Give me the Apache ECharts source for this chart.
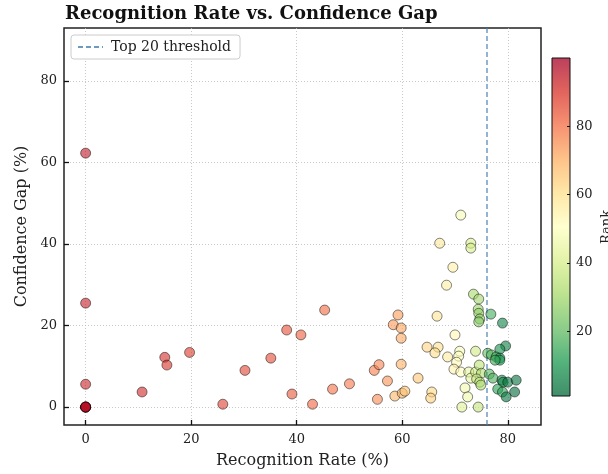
<!DOCTYPE html>
<html>
<head>
<meta charset="utf-8">
<script src="https://cdn.jsdelivr.net/npm/echarts@6/dist/echarts.min.js"></script>
<style>
  html, body { margin: 0; padding: 0; background: #fff; }
  #chart { width: 608px; height: 474px; }
</style>
</head>
<body>
<div id="chart"></div>
<script>
// one entry per model: recognition rate (%), confidence gap (%), rank
var recogRate = [
  0, 0, 0, 0, 0, 0, 0, 0,
  10.7, 15, 15.4, 19.7, 26, 30.2, 35.1, 38.1, 39.1, 40.8, 43, 45.3, 46.8, 50,
  54.7, 55.6, 55.3, 57.2, 58.3, 59.2, 59.8, 59.8, 59.8, 58.6, 60, 60.5, 63,
  64.7, 66.8, 66.2, 68.6, 65.6, 65.4, 66.6, 67.1, 68.4, 69.6, 71.1, 70, 70.9, 70.7,
  70.3, 69.8, 71.1, 72.6, 73, 71.9, 72.4, 71.3,
  73.9, 74.6, 75, 74.1, 74.7, 74.9, 74.4, 73.9, 73, 73, 73.5, 74.5, 74.4, 74.5, 74.7, 74.5,
  76.8, 79, 79.6, 78.5, 76.2, 76.9, 77.8, 78.5, 78.5, 77.6, 76.5, 77.2, 78.9, 79.1, 80,
  81.6, 78.1, 79, 79.7, 81.3
];
var confGap = [
  0, 0, 0, 0, 0, 62.3, 25.5, 5.6,
  3.7, 12.2, 10.3, 13.4, 0.7, 9, 12, 18.9, 3.2, 17.7, 0.7, 23.8, 4.4, 5.7,
  9, 10.4, 1.9, 6.4, 20.2, 22.6, 19.4, 16.9, 10.5, 2.7, 3.4, 3.9, 7.1,
  14.7, 14.7, 13.3, 12.3, 3.7, 2.2, 22.3, 40.2, 29.9, 34.3, 47.1, 17.7, 13.7, 12.5,
  11.0, 9.3, 8.6, 8.6, 7.1, 4.7, 2.5, 0,
  8.6, 10.3, 8.3, 6.9, 6.1, 5.4, 0, 13.7, 40.2, 39, 27.7, 26.5, 24.0, 23.0, 21.6, 20.9,
  22.8, 20.6, 15, 14.2, 13.2, 12.8, 12.3, 12.0, 11.5, 11.5, 8.1, 7.1, 6.6, 6.1, 6.1,
  6.6, 4.4, 3.7, 2.5, 3.7
];
var rank = [
  100, 99, 98, 97, 96, 95, 94, 93,
  92, 91, 90, 89, 88, 87, 86, 85, 84, 83, 82, 81, 80, 79,
  78, 77, 76, 75, 74, 73, 72, 71, 70, 69, 68, 67, 66,
  63, 60, 61, 57, 62, 64, 59, 58, 56, 55, 48, 53, 49, 50,
  52, 54, 51, 45, 44, 47, 46, 42,
  38, 35, 33, 37, 34, 32, 36, 39, 41, 40, 31, 30, 29, 28, 27, 26,
  16, 6, 5, 9, 20, 18, 14, 11, 10, 15, 19, 17, 8, 7, 4,
  2, 12, 13, 3, 1
];

var xTicks = [0, 20, 40, 60, 80];
var yTicks = [0, 20, 40, 60, 80];
var rankTicks = [20, 40, 60, 80];
var RANK_MIN = 1, RANK_MAX = 100;
var THRESHOLD = 76.0;   // recognition rate of the 20th model

// RdYlGn reversed: good rank green, bad rank red
var rdYlGnR = ['#006837', '#1a9850', '#66bd63', '#a6d96a', '#d9ef8b', '#ffffbf',
               '#fee08b', '#fdae61', '#f46d43', '#d73027', '#a50026'];
var ALPHA = 0.75;

var points = recogRate.map(function (x, i) { return [x, confGap[i], rank[i]]; });

// colorbar gradient, bottom (rank 1) to top (rank 100)
var barStops = rdYlGnR.map(function (c, i) {
  return { offset: i / (rdYlGnR.length - 1), color: echarts.color.modifyAlpha(c, ALPHA) };
});

var serif = 'DejaVu Serif';
function tickFmt(list) {
  return function (v) { return list.indexOf(Math.round(v * 1000) / 1000) >= 0 ? String(v) : ''; };
}

var chart = echarts.init(document.getElementById('chart'));
chart.setOption({
  animation: false,
  textStyle: { fontFamily: serif },
  title: {
    text: 'Recognition Rate vs. Confidence Gap',
    left: 60, top: 0,
    textStyle: { fontFamily: serif, fontWeight: 'bold', fontSize: 18, color: '#111' }
  },
  legend: {
    data: ['Top 20 threshold'],
    left: 71, top: 35,
    padding: [5, 9, 5, 6],
    itemWidth: 25, itemHeight: 14,
    backgroundColor: '#fff',
    borderColor: '#ccc', borderWidth: 1, borderRadius: 3,
    itemStyle: { opacity: 0 },
    textStyle: { fontFamily: serif, fontSize: 14, color: '#222', padding: [0, 0, 0, 3] },
    z: 12
  },
  grid: [
    { left: 64, right: 67, top: 28, bottom: 49, outerBoundsMode: 'none',
      show: true, borderColor: '#222', borderWidth: 1.5, z: 5 },
    { left: 552, top: 58, width: 18, height: 338, outerBoundsMode: 'none',
      show: true, borderColor: '#111', borderWidth: 1, backgroundColor: 'transparent', z: 10 }
  ],
  xAxis: [
    {
      type: 'value', gridIndex: 0, min: -4.1, max: 86.3, splitNumber: 5,
      name: 'Recognition Rate (%)', nameLocation: 'middle', nameGap: 28,
      nameTextStyle: { fontFamily: serif, fontSize: 16, color: '#222' },
      axisLine: { show: false, onZero: false },
      axisTick: { show: true, inside: true, length: 5, customValues: xTicks,
                  lineStyle: { color: '#111', width: 1.3 } },
      axisLabel: { fontFamily: serif, fontSize: 13, color: '#222', margin: 8,
                   customValues: xTicks, formatter: tickFmt(xTicks) },
      splitLine: { show: true, lineStyle: { color: '#bbb', type: [1, 2], width: 0.8 } },
      z: 6
    },
    { type: 'category', gridIndex: 1, data: ['rank'], show: false }
  ],
  yAxis: [
    {
      type: 'value', gridIndex: 0, min: -4.4, max: 93, splitNumber: 5,
      name: 'Confidence Gap (%)', nameLocation: 'middle', nameGap: 34,
      nameTextStyle: { fontFamily: serif, fontSize: 16, color: '#222' },
      axisLine: { show: false, onZero: false },
      axisTick: { show: true, inside: true, length: 5, customValues: yTicks,
                  lineStyle: { color: '#111', width: 1.3 } },
      axisLabel: { fontFamily: serif, fontSize: 13, color: '#222', margin: 7,
                   customValues: yTicks, formatter: tickFmt(yTicks) },
      splitLine: { show: true, lineStyle: { color: '#bbb', type: [1, 2], width: 0.8 } },
      z: 6
    },
    {
      type: 'value', gridIndex: 1, min: RANK_MIN, max: RANK_MAX, position: 'right', splitNumber: 5,
      name: 'Rank', nameLocation: 'middle', nameRotate: 90, nameGap: 30,
      nameTextStyle: { fontFamily: serif, fontSize: 13, color: '#222' },
      axisLine: { show: false, onZero: false },
      axisTick: { show: true, inside: true, length: 3, customValues: rankTicks,
                  lineStyle: { color: '#111', width: 1 } },
      axisLabel: { fontFamily: serif, fontSize: 13, color: '#222', margin: 6,
                   customValues: rankTicks, formatter: tickFmt(rankTicks) },
      splitLine: { show: false },
      z: 11
    }
  ],
  visualMap: {
    show: false,
    type: 'continuous',
    min: RANK_MIN, max: RANK_MAX,
    dimension: 2,
    seriesIndex: 0,
    inRange: { color: rdYlGnR, colorAlpha: ALPHA }
  },
  series: [
    {
      type: 'scatter',
      xAxisIndex: 0, yAxisIndex: 0,
      data: points,
      symbolSize: 10,
      itemStyle: { borderColor: 'rgba(0,0,0,0.75)', borderWidth: 0.8 },
      z: 7
    },
    {
      name: 'Top 20 threshold',
      type: 'line',
      xAxisIndex: 0, yAxisIndex: 0,
      data: [],
      symbol: 'none',
      lineStyle: { color: '#4682b4', opacity: 0.8, width: 1.5, type: [5, 3] },
      itemStyle: { color: '#4682b4' },
      markLine: {
        silent: true,
        symbol: 'none',
        label: { show: false },
        lineStyle: { color: '#4682b4', opacity: 0.8, width: 1.5, type: [5, 3] },
        data: [{ xAxis: THRESHOLD }]
      },
      z: 8
    },
    {
      // colorbar
      type: 'bar',
      xAxisIndex: 1, yAxisIndex: 1,
      data: [RANK_MAX],
      barWidth: '100%',
      silent: true,
      itemStyle: { color: new echarts.graphic.LinearGradient(0, 1, 0, 0, barStops) }
    }
  ]
});
</script>
</body>
</html>
